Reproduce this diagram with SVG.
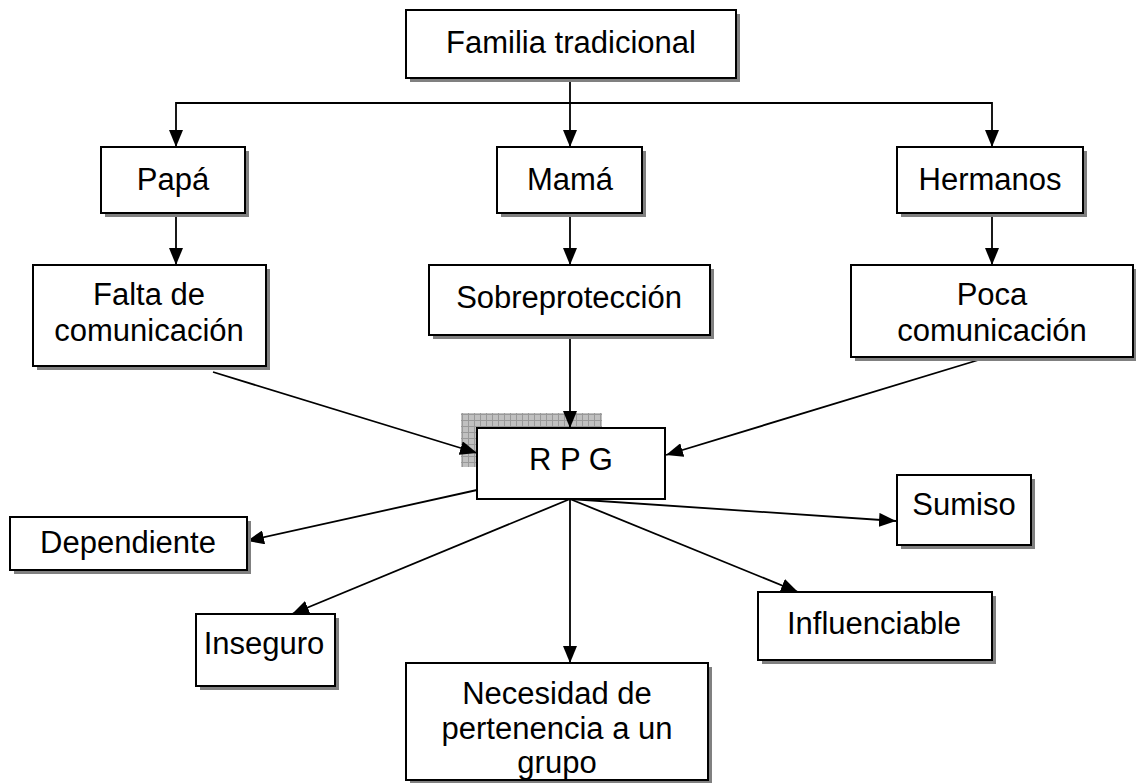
<svg xmlns="http://www.w3.org/2000/svg" width="1136" height="783" viewBox="0 0 1136 783">
<defs>
<style>
.box{fill:#fff;stroke:#000;stroke-width:2}
.sh{fill:#808080}
.t{font-family:"Liberation Sans",Arial,sans-serif;font-size:31px;fill:#000;text-anchor:middle}
.c{stroke:#000;stroke-width:1.8;fill:none}
</style>
<marker id="ah" viewBox="0 0 10 10" refX="10" refY="5" markerWidth="17" markerHeight="14" markerUnits="userSpaceOnUse" orient="auto" preserveAspectRatio="none">
<path d="M0,0 L10,5 L0,10 z" fill="#000"/>
</marker>
<pattern id="grid" width="6" height="6" patternUnits="userSpaceOnUse">
<rect width="6" height="6" fill="#c0c0c0"/>
<path d="M0,0.5 H6 M0.5,0 V6" stroke="#999" stroke-width="1"/>
</pattern>
</defs>
<rect x="461" y="413" width="141" height="54" fill="url(#grid)"/>
<g id="connectors">
<path class="c" d="M570,78 V147" marker-end="url(#ah)"/>
<path class="c" d="M570,103 H176 V147" marker-end="url(#ah)"/>
<path class="c" d="M570,103 H992 V147" marker-end="url(#ah)"/>
<path class="c" d="M176,213 V265" marker-end="url(#ah)"/>
<path class="c" d="M570,213 V265" marker-end="url(#ah)"/>
<path class="c" d="M992,213 V265" marker-end="url(#ah)"/>
<path class="c" d="M213,372 L477,453" marker-end="url(#ah)"/>
<path class="c" d="M570,335 V428" marker-end="url(#ah)"/>
<path class="c" d="M985,358 L666,455" marker-end="url(#ah)"/>
<path class="c" d="M477,490 L247,541" marker-end="url(#ah)"/>
<path class="c" d="M570,499 L896,521" marker-end="url(#ah)"/>
<path class="c" d="M570,499 L292,614" marker-end="url(#ah)"/>
<path class="c" d="M570,499 V663" marker-end="url(#ah)"/>
<path class="c" d="M570,499 L798,592" marker-end="url(#ah)"/>
</g>
<g id="familia"><rect class="sh" x="410" y="14" width="330" height="68"/><rect class="box" x="406" y="10" width="330" height="68"/><text class="t" x="571" y="53">Familia tradicional</text></g>
<g id="papa"><rect class="sh" x="105" y="151" width="144" height="66"/><rect class="box" x="101" y="147" width="144" height="66"/><text class="t" x="173" y="190">Papá</text></g>
<g id="mama"><rect class="sh" x="501" y="151" width="145" height="66"/><rect class="box" x="497" y="147" width="145" height="66"/><text class="t" x="570" y="190">Mamá</text></g>
<g id="hermanos"><rect class="sh" x="901" y="151" width="186" height="66"/><rect class="box" x="897" y="147" width="186" height="66"/><text class="t" x="990" y="190">Hermanos</text></g>
<g id="falta"><rect class="sh" x="37" y="269" width="233" height="101"/><rect class="box" x="33" y="265" width="233" height="101"/><text class="t" x="149" y="305">Falta de</text><text class="t" x="149" y="341">comunicación</text></g>
<g id="sobre"><rect class="sh" x="433" y="269" width="281" height="70"/><rect class="box" x="429" y="265" width="281" height="70"/><text class="t" x="569" y="308">Sobreprotección</text></g>
<g id="poca"><rect class="sh" x="855" y="269" width="285" height="92"/><rect class="box" x="851" y="265" width="282" height="92"/><text class="t" x="992" y="305">Poca</text><text class="t" x="992" y="341">comunicación</text></g>
<g id="rpg"><rect class="box" x="477" y="428" width="188" height="71"/><text class="t" x="571" y="470">R P G</text></g>
<g id="dependiente"><rect class="sh" x="14" y="521" width="237" height="53"/><rect class="box" x="10" y="517" width="237" height="53"/><text class="t" x="128" y="553">Dependiente</text></g>
<g id="sumiso"><rect class="sh" x="901" y="479" width="134" height="70"/><rect class="box" x="897" y="475" width="134" height="70"/><text class="t" x="964" y="515">Sumiso</text></g>
<g id="inseguro"><rect class="sh" x="200" y="618" width="139" height="72"/><rect class="box" x="196" y="614" width="139" height="72"/><text class="t" x="264" y="654">Inseguro</text></g>
<g id="influenciable"><rect class="sh" x="762" y="596" width="234" height="68"/><rect class="box" x="758" y="592" width="234" height="68"/><text class="t" x="874" y="634">Influenciable</text></g>
<g id="necesidad"><rect class="sh" x="410" y="667" width="302" height="117"/><rect class="box" x="406" y="663" width="302" height="117"/><text class="t" x="557" y="704">Necesidad de</text><text class="t" x="557" y="739">pertenencia a un</text><text class="t" x="557" y="773">grupo</text></g>
</svg>
